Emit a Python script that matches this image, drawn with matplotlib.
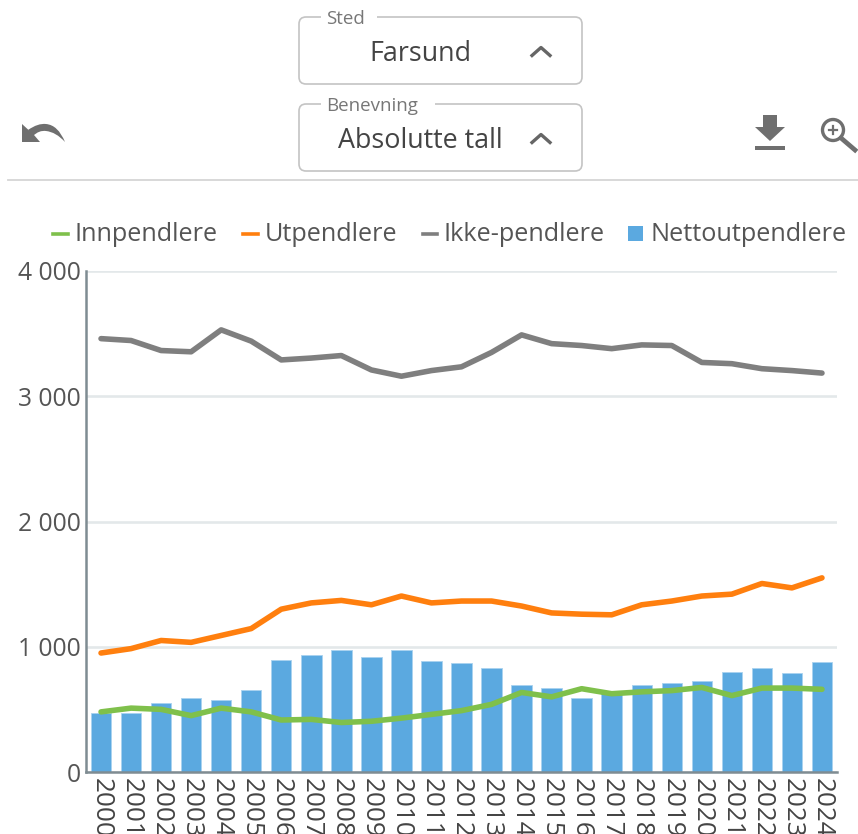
import matplotlib
matplotlib.use("Agg")
import matplotlib.pyplot as plt
from matplotlib.patches import FancyBboxPatch, Polygon, Rectangle, Circle, PathPatch
from matplotlib.path import Path
from matplotlib.lines import Line2D

plt.rcParams['font.family'] = ['Open Sans', 'DejaVu Sans']

years = [str(y) for y in range(2000, 2025)]
nettout = [470, 470, 550, 590, 575, 655, 895, 935, 975, 920, 975, 885, 870, 830, 695, 670, 590, 630, 695, 710, 725, 800, 830, 790, 880]
inn = [480, 510, 500, 450, 510, 480, 415, 420, 395, 405, 430, 460, 490, 540, 635, 600, 665, 625, 640, 650, 675, 610, 670, 670, 660]
ut = [950, 985, 1050, 1035, 1090, 1145, 1300, 1350, 1370, 1335, 1405, 1350, 1365, 1365, 1325, 1270, 1260, 1255, 1335, 1365, 1405, 1420, 1505, 1470, 1550]
ikke = [3460, 3445, 3365, 3355, 3530, 3440, 3290, 3305, 3325, 3210, 3160, 3205, 3235, 3350, 3490, 3420, 3405, 3380, 3410, 3405, 3270, 3260, 3220, 3205, 3185]
yticks = [0, 1000, 2000, 3000, 4000]
ylabels = ['0', '1 000', '2 000', '3 000', '4 000']

W, H = 858, 834
GREEN, ORANGE, GREY, BLUE = '#7FC04B', '#FF7F0E', '#7F7F7F', '#5BA9E0'
TXT = '#555555'

fig = plt.figure(figsize=(W / 100, H / 100), dpi=100)
L, R, T, B = 86, 837, 271, 772
ax = fig.add_axes([L / W, 1 - B / H, (R - L) / W, (B - T) / H])
x = list(range(len(years)))
ax.bar(x, nettout, width=0.68, color=BLUE, edgecolor='#A9D2EF', linewidth=0.6, zorder=2)
for vals, col in [(inn, GREEN), (ut, ORANGE), (ikke, GREY)]:
    ax.plot(x, vals, color=col, lw=4.0, zorder=3, solid_capstyle='round', solid_joinstyle='round')
ax.set_xlim(-0.5, len(years) - 0.5)
ax.set_ylim(0, 4000)
ax.set_yticks(yticks, ylabels)
ax.set_xticks(x, years, rotation=270)
ax.grid(axis='y', color='#E3E8EA', lw=1.9, zorder=0)
ax.set_axisbelow(True)
ax.tick_params(length=0)
ax.tick_params(axis='y', labelsize=17.7, labelcolor=TXT, pad=4)
ax.tick_params(axis='x', labelsize=18.8, labelcolor='#444444', pad=4)
for s in ('top', 'right'):
    ax.spines[s].set_visible(False)
for s in ('left', 'bottom'):
    ax.spines[s].set_color('#7F8C92')
    ax.spines[s].set_linewidth(1.8)

# page furniture, in pixel coordinates
ui = fig.add_axes([0, 0, 1, 1], zorder=5)
ui.set_xlim(0, W)
ui.set_ylim(H, 0)
ui.axis('off')
ui.patch.set_alpha(0)

def box(y0, y1, label, label_w, value, cx):
    ui.add_patch(FancyBboxPatch((299, y0), 283, y1 - y0, boxstyle='round,pad=0,rounding_size=7',
                                fc='white', ec='#C4C4C4', lw=1.2))
    ui.add_patch(Rectangle((321, y0 - 2), label_w, 4, fc='white', ec='none', zorder=3))
    ui.text(326.5, y0 + 1.5, label, fontsize=13.5, color='#777777', va='center', zorder=4)
    ui.text(cx, (y0 + y1) / 2 + 3, value, fontsize=19.4, color='#444444', ha='center', va='center')
    ym = (y0 + y1) / 2
    ui.plot([532, 541, 550], [ym + 5, ym - 3, ym + 5], color='#666666', lw=2.4)

box(17, 84, 'Sted', 56, 'Farsund', 420)
box(104, 171, 'Benevning', 114, 'Absolutte tall', 420)
ui.plot([8, 858], [179.5, 179.5], color='#D5D5D5', lw=1.3)

# undo icon
ui.add_patch(Polygon([(22, 124), (22, 142), (40, 142), (34, 135), (22, 124)], fc='#6F6F6F', ec='none'))
ui.add_patch(PathPatch(Path([(28, 130), (38, 123), (46, 124), (58, 125), (65, 142), (56, 132), (46, 131), (39, 130), (33, 136), (28, 130)],
                            [Path.MOVETO, Path.CURVE3, Path.CURVE3, Path.CURVE3, Path.CURVE3,
                             Path.CURVE3, Path.CURVE3, Path.CURVE3, Path.CURVE3, Path.LINETO]),
                       fc='#6F6F6F', ec='none'))
# download icon
ui.add_patch(Polygon([(763, 115), (777, 115), (777, 127), (785, 127), (770, 141), (755, 127), (763, 127)], fc='#6F6F6F', ec='none'))
ui.add_patch(Rectangle((755, 146), 30, 4, fc='#6F6F6F', ec='none'))
# zoom icon
ui.add_patch(Circle((833, 130), 10.5, fc='none', ec='#6F6F6F', lw=2.4))
ui.plot([841, 855], [138, 150], color='#6F6F6F', lw=3.4)
ui.plot([829, 837], [130, 130], color='#6F6F6F', lw=1.6)
ui.plot([833, 833], [126, 134], color='#6F6F6F', lw=1.6)

# legend
for x0, x1, c in [(53, 68, GREEN), (243, 258, ORANGE), (423, 437, GREY)]:
    ui.add_line(Line2D([x0, x1], [234, 234], color=c, lw=2.6))
ui.add_patch(Rectangle((628, 226), 15, 15, fc=BLUE, ec='none'))
for tx, s in [(74.5, 'Innpendlere'), (264.5, 'Utpendlere'), (443.5, 'Ikke-pendlere'), (650.5, 'Nettoutpendlere')]:
    ui.text(tx, 234.5, s, fontsize=18.2, color=TXT, va='center')

fig.savefig('out.png', dpi=100)
